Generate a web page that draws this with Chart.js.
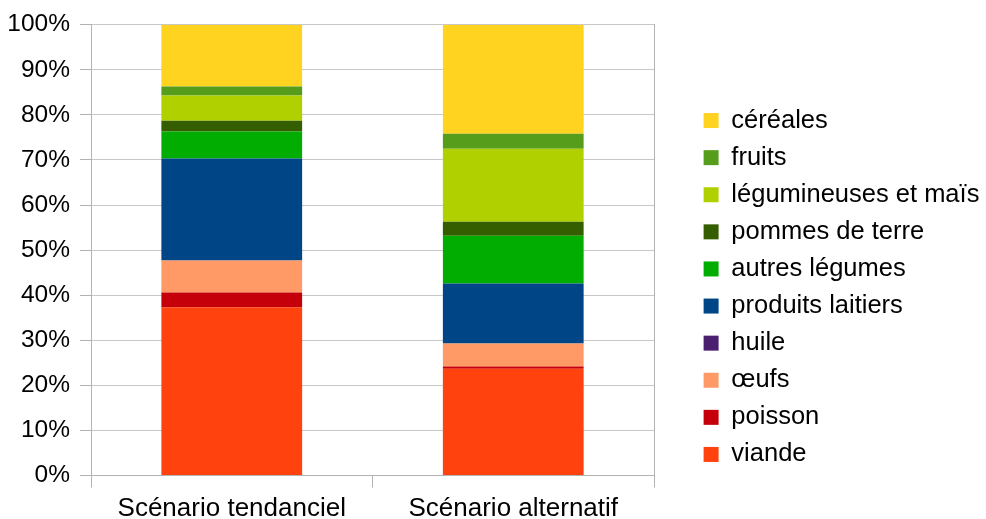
<!DOCTYPE html>
<html>
<head>
<meta charset="utf-8">
<script src="https://cdn.jsdelivr.net/npm/chart.js@4"></script>
<style>
  html, body { margin: 0; padding: 0; background: #fff; }
  #wrap { width: 986px; height: 519px; }
</style>
</head>
<body>
<div id="wrap"><canvas id="chart"></canvas></div>
<script>
// scenarios on the x axis
const scenarios = ['Scénario tendanciel', 'Scénario alternatif'];

// share of each food group, in %, bottom to top of the stack
const viande = [37.3, 23.7];
const poisson = [3.3, 0.5];
const oeufs = [7.1, 5.1];
const huile = [0, 0];
const laitiers = [22.6, 13.3];
const autresLegumes = [6.0, 10.6];
const pommesDeTerre = [2.4, 3.1];
const legumineuses = [5.6, 16.2];
const fruits = [2.0, 3.3];
const cereales = [13.7, 24.2];

const yTicks = [0, 10, 20, 30, 40, 50, 60, 70, 80, 90, 100];

const gridColor = '#c8c8c8';
const axisColor = '#b3b3b3';

function ds(label, data, color) {
    return { label: label, data: data, backgroundColor: color, borderWidth: 0 };
}

const ctx = document.getElementById('chart').getContext('2d');
const chart = new Chart(ctx, {
    type: 'bar',
    data: {
        labels: scenarios,
        datasets: [
            ds('viande', viande, '#ff420e'),
            ds('poisson', poisson, '#c5000b'),
            ds('œufs', oeufs, '#ff9966'),
            ds('huile', huile, '#4b1f6f'),
            ds('produits laitiers', laitiers, '#004586'),
            ds('autres légumes', autresLegumes, '#00ad00'),
            ds('pommes de terre', pommesDeTerre, '#355e00'),
            ds('légumineuses et maïs', legumineuses, '#b0d000'),
            ds('fruits', fruits, '#579d1c'),
            ds('céréales', cereales, '#ffd320')
        ]
    },
    options: {
        responsive: true,
        maintainAspectRatio: false,
        animation: false,
        layout: { padding: { left: 0, top: 24, right: 0, bottom: 0 } },
        datasets: { bar: { barPercentage: 0.5, categoryPercentage: 1 } },
        plugins: {
            tooltip: { enabled: false },
            legend: {
                position: 'right',
                reverse: true,
                maxWidth: 294,
                title: { display: true, text: '', padding: { top: 0, bottom: 17.6 } },
                labels: {
                    boxWidth: 15,
                    boxHeight: 15,
                    padding: 11.6,
                    color: '#000',
                    font: { family: 'Liberation Sans', size: 25.5 }
                }
            }
        },
        scales: {
            x: {
                stacked: true,
                grid: { offset: true, drawOnChartArea: false, color: axisColor, tickLength: 12 },
                border: { color: axisColor },
                ticks: {
                    color: '#000',
                    padding: 8,
                    font: { family: 'Liberation Sans', size: 26, lineHeight: 1 }
                },
                afterFit: scale => { scale.height = 43.5; }
            },
            y: {
                stacked: true,
                min: 0,
                max: 100,
                afterBuildTicks: scale => { scale.ticks = yTicks.map(v => ({ value: v })); },
                grid: { color: gridColor, tickColor: axisColor, tickLength: 11 },
                border: { color: axisColor },
                ticks: {
                    color: '#000',
                    padding: 10,
                    font: { family: 'Liberation Sans', size: 24.5 },
                    callback: v => v + '%'
                },
                afterFit: scale => { scale.width = 91; }
            },
            yRight: {
                position: 'right',
                min: 0,
                max: 100,
                grid: { drawOnChartArea: false, drawTicks: false },
                border: { color: axisColor },
                ticks: { display: false },
                afterFit: scale => { scale.width = 38; }
            }
        }
    }
});
</script>
</body>
</html>
